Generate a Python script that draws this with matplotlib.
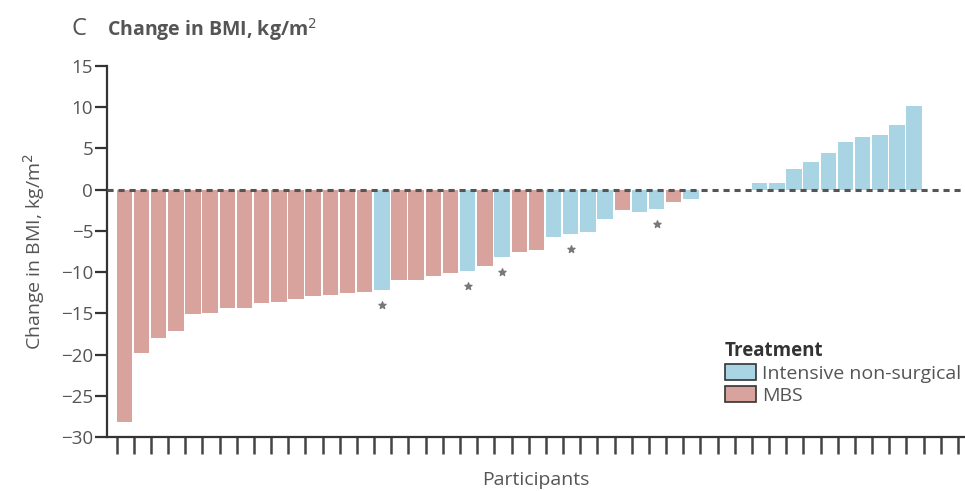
import matplotlib.pyplot as plt

# change in BMI per participant, sorted as in the figure (0 = no bar drawn)
bmi_change = [-28.2, -19.8, -18.0, -17.2, -15.1, -15.0, -14.4, -14.3, -13.8, -13.6,
              -13.3, -12.9, -12.8, -12.5, -12.4, -12.2, -11.0, -10.9, -10.5, -10.1,
              -9.9, -9.3, -8.2, -7.6, -7.3, -5.7, -5.4, -5.1, -3.5, -2.5,
              -2.7, -2.4, -1.5, -1.1, 0, 0, 0, 0.8, 0.8, 2.5,
              3.4, 4.5, 5.8, 6.4, 6.6, 7.8, 10.1, 0, 0, 0]
# I = intensive non-surgical, M = MBS
treatment = ["M"] * 15 + ["I", "M", "M", "M", "M", "I", "M", "I", "M", "M",
             "I", "I", "I", "I", "M", "I", "I", "M", "I", "I", "I", "I",
             "I", "I", "I", "I", "I", "I", "I", "I", "I", "I", "I", "I", "I"]
starred = [15, 20, 22, 26, 31]

blue = "#a8d4e4"
red = "#d8a29d"
grey = "#555555"

plt.rcParams['font.family'] = ['Open Sans', 'DejaVu Sans']

fig = plt.figure(figsize=(9.65, 4.91), dpi=100)
ax = fig.add_axes([0.111, 0.110, 0.889, 0.7556])

x = list(range(len(bmi_change)))
colors = [blue if t == "I" else red for t in treatment]
ax.bar(x, bmi_change, width=0.9, color=colors, zorder=2)

sx = [x[i] for i in starred]
sy = [bmi_change[i] - 1.8 for i in starred]
ax.scatter(sx, sy, marker="*", s=28, color="#777777", zorder=3)

ax.axhline(0, color="#555555", linestyle=(0, (2, 1.6)), linewidth=2.2, zorder=4)

ax.set_xlim(-1.0, 48.96)
ax.set_ylim(-30, 15)
ax.set_yticks(range(-30, 16, 5))
ax.set_yticklabels([str(v).replace("-", "\u2212") for v in range(-30, 16, 5)])
ax.set_xticks([i - 0.45 for i in x])
ax.set_xticklabels([])

for s in ["top", "right"]:
    ax.spines[s].set_visible(False)
for s in ["left", "bottom"]:
    ax.spines[s].set_color("#333333")
    ax.spines[s].set_linewidth(1.6)
ax.tick_params(axis="y", length=9, width=1.6, color="#333333", labelsize=13.5, labelcolor=grey, pad=1)
ax.tick_params(axis="x", length=12, width=1.8, color="#444444")

ax.set_ylabel("Change in BMI, kg/m$^2$", fontsize=14, color=grey, labelpad=10)
ax.set_xlabel("Participants", fontsize=14, color=grey, labelpad=9)

fig.text(0.074, 0.94, "C", fontsize=17, color=grey, va="center")
fig.text(0.111, 0.94, "Change in BMI, kg/m$^2$", fontsize=14, fontweight="bold",
         color=grey, va="center")

h1 = plt.Rectangle((0, 0), 1, 1, facecolor=blue, edgecolor="#333333", linewidth=1.2)
h2 = plt.Rectangle((0, 0), 1, 1, facecolor=red, edgecolor="#333333", linewidth=1.2)
leg = ax.legend([h1, h2], ["Intensive non-surgical", "MBS"], title="Treatment",
                loc="upper left", bbox_to_anchor=(0.751, 0.305), bbox_transform=fig.transFigure,
                frameon=False, fontsize=14, title_fontproperties={"weight": "bold", "size": 13.5},
                handlelength=1.6, handleheight=0.9, handletextpad=0.3, labelspacing=0.15,
                borderaxespad=0, borderpad=0)
leg._legend_box.align = "left"
for t in leg.get_texts():
    t.set_color(grey)
leg.get_title().set_color("#333333")

fig.savefig("out.png", dpi=100)
